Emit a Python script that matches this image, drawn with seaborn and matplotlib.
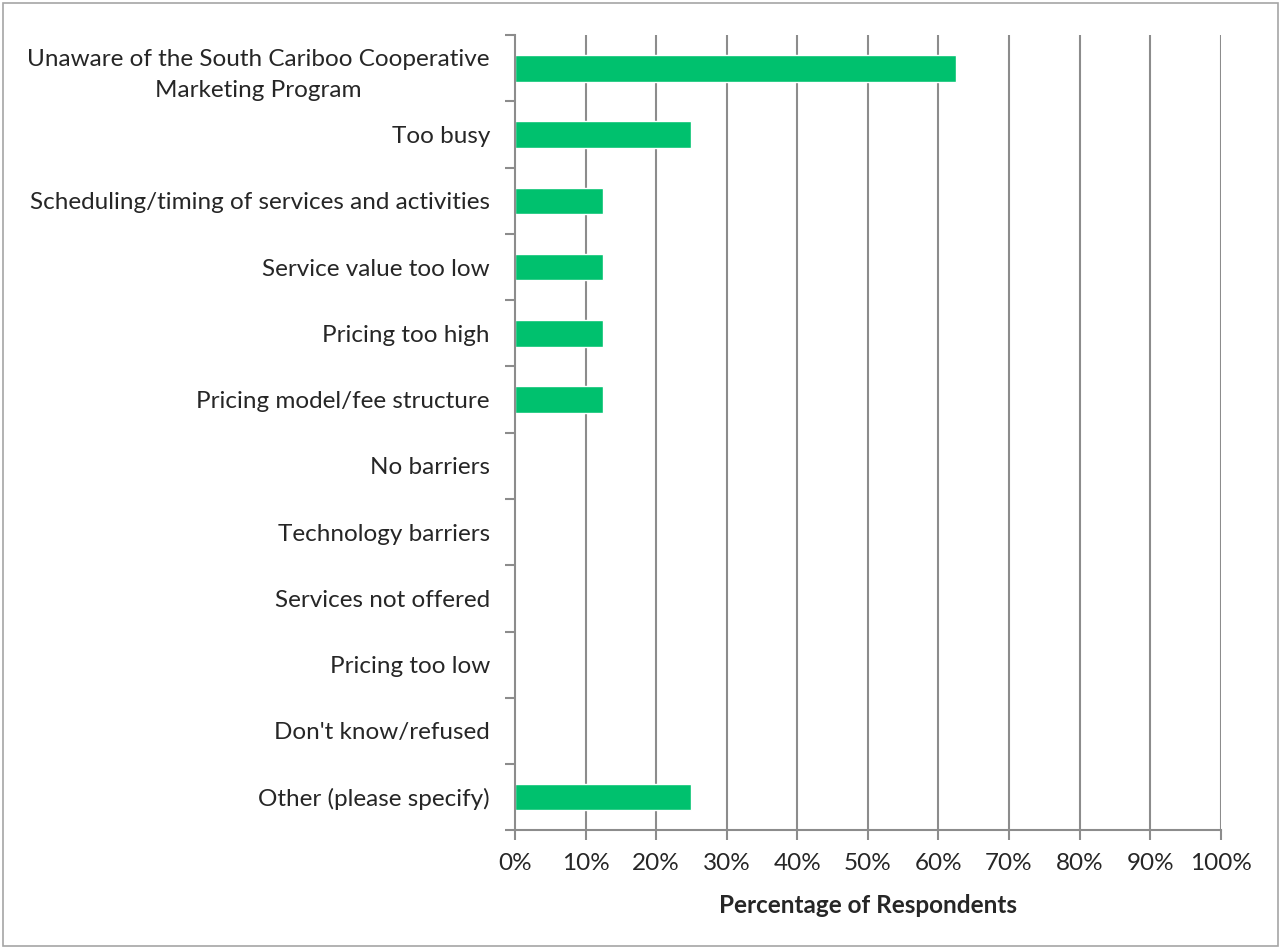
import matplotlib.pyplot as plt
import numpy as np
import pandas as pd
import seaborn as sns
from matplotlib.ticker import FixedLocator, PercentFormatter

categories = [
    "Unaware of the South Cariboo Cooperative\nMarketing Program",
    "Too busy",
    "Scheduling/timing of services and activities",
    "Service value too low",
    "Pricing too high",
    "Pricing model/fee structure",
    "No barriers",
    "Technology barriers",
    "Services not offered",
    "Pricing too low",
    "Don't know/refused",
    "Other (please specify)",
]
percent = [62.5, 25.0, 12.5, 12.5, 12.5, 12.5, 0, 0, 0, 0, 0, 25.0]

sns.set_style("white")
plt.rcParams["font.family"] = ["Lato", "DejaVu Sans"]

df = pd.DataFrame({"category": categories, "percent": percent})

fig = plt.figure(figsize=(12.81, 9.5), dpi=100)
ax = fig.add_axes([0.402, 0.126, 0.551, 0.837])

sns.barplot(data=df, x="percent", y="category", color="#00C16E",
            width=0.4, saturation=1, ax=ax)

grid_col = "#8C8C8C"
fs = 17.5
ax.set_xlim(0, 100)
ax.set_ylim(len(categories) - 0.5, -0.5)
ax.set_xticks(np.arange(0, 101, 10))
ax.xaxis.set_major_formatter(PercentFormatter(decimals=0))
for x in range(10, 101, 10):
    ax.axvline(x, color=grid_col, lw=1.5, zorder=0)

ax.yaxis.set_minor_locator(FixedLocator(np.arange(-0.5, len(categories), 1)))
ax.tick_params(axis="y", which="major", length=0, pad=18, labelsize=fs)
ax.tick_params(axis="y", which="minor", length=7, width=1.5, color=grid_col, direction="out", left=True)
ax.tick_params(axis="x", length=7, width=1.5, color=grid_col, direction="out", bottom=True,
               labelsize=fs, pad=9)
for lbl in ax.get_yticklabels():
    lbl.set_multialignment("center")
    lbl.set_linespacing(1.6)

for side in ["top", "right"]:
    ax.spines[side].set_visible(False)
for side in ["left", "bottom"]:
    ax.spines[side].set_color(grid_col)
    ax.spines[side].set_linewidth(1.5)

ax.set_ylabel("")
ax.set_xlabel("Percentage of Respondents", fontsize=fs, fontweight="bold", labelpad=15)

fig.patches.append(plt.Rectangle((0.002, 0.004), 0.996, 0.993, transform=fig.transFigure,
                                 fill=False, edgecolor="#A6A6A6", lw=1.2))

fig.savefig("out.png", dpi=100)
